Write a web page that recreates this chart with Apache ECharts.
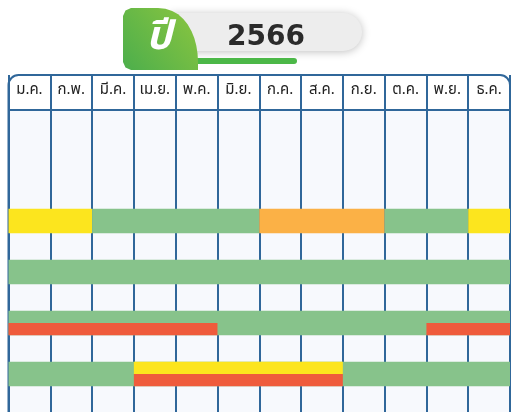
<!DOCTYPE html>
<html>
<head>
<meta charset="utf-8">
<script src="https://cdn.jsdelivr.net/npm/echarts@6/dist/echarts.min.js"></script>
<style>
  html, body { margin: 0; padding: 0; background: #fff; }
  #chart { width: 519px; height: 412px; }
</style>
</head>
<body>
<div id="chart"></div>
<script>
// data
const yearLabel = "2566";
const yearPrefix = "ปี";
const months = ["ม.ค.", "ก.พ.", "มี.ค.", "เม.ย.", "พ.ค.", "มิ.ย.", "ก.ค.", "ส.ค.", "ก.ย.", "ต.ค.", "พ.ย.", "ธ.ค."];
// one entry per bar segment
const segRow = [1, 1, 1, 1, 1, 2, 3, 3, 3, 4, 4, 4];
const segStart = [0, 2, 6, 9, 11, 0, 0, 0, 10, 0, 3, 3];
const segEnd = [1, 5, 8, 10, 11, 11, 11, 4, 11, 11, 7, 7];
const segPart = ["full", "full", "full", "full", "full", "full", "full", "lower", "lower", "full", "upper", "lower"];
const segStatus = ["Y", "G", "O", "G", "Y", "G", "G", "R", "R", "G", "Y", "R"];

const statusColor = { Y: "#fce51e", G: "#87c38b", O: "#fbb146", R: "#ef5b3c" };
const lineColor = "#30679a";
const thaiFont = "'Noto Sans Thai', 'Noto Sans Thai Looped', Loma, Garuda, 'Tlwg Typo', 'DejaVu Sans', sans-serif";

const chart = echarts.init(document.getElementById("chart"));

const segData = segRow.map((r, i) => ({
  value: [r, segStart[i], segEnd[i], segPart[i] === "full" ? 0 : segPart[i] === "upper" ? 1 : 2],
  itemStyle: { color: statusColor[segStatus[i]] },
}));

function renderSeg(params, api) {
  const row = api.value(0);
  const s = api.value(1);
  const e = api.value(2);
  const part = api.value(3);
  const band = api.size([1, 0])[0];
  const unit = api.size([0, 1])[1];
  const p0 = api.coord([s, row]);
  const p1 = api.coord([e, row]);
  const h = unit * 0.48;
  let y = p0[1] - h / 2;
  let hh = h;
  if (part === 1) { hh = h / 2; }
  if (part === 2) { y = p0[1]; hh = h / 2; }
  const x = p0[0] - band / 2;
  const w = p1[0] + band / 2 - x;
  return {
    type: "rect",
    shape: { x: x, y: y, width: w, height: hh },
    style: { fill: api.visual("color") },
  };
}

// outline of the green "year" badge (rounded left corners, curved right side)
function badgePoints() {
  const pts = [[133, 8], [158, 8]];
  for (let t = 0.1; t <= 1.0001; t += 0.1) {
    const u = 1 - t;
    const x = u * u * u * 158 + 3 * u * u * t * 184 + 3 * u * t * t * 198 + t * t * t * 198;
    const y = u * u * u * 8 + 3 * u * u * t * 8 + 3 * u * t * t * 34 + t * t * t * 62;
    pts.push([x, y]);
  }
  pts.push([198, 70], [131, 70], [125.5, 67.5], [123, 62], [123, 16], [125.5, 10.5], [131, 8]);
  return pts;
}

chart.setOption({
  animation: false,
  backgroundColor: "#ffffff",
  grid: { left: 8.5, right: 9, top: 75, bottom: 0 },
  xAxis: {
    type: "category",
    position: "top",
    data: months,
    boundaryGap: true,
    axisLine: { show: false },
    axisTick: { show: false, interval: 0 },
    axisLabel: {
      interval: 0,
      inside: true,
      margin: 8,
      color: "#222",
      fontSize: 15,
      fontFamily: thaiFont,
    },
    splitLine: { show: true, interval: 0, lineStyle: { color: lineColor, width: 2 } },
  },
  yAxis: {
    type: "value",
    inverse: true,
    min: -1.863,
    max: 4.745,
    show: false,
    splitLine: { show: false },
  },
  graphic: [
    {
      type: "rect",
      z: -10,
      shape: { x: 8.5, y: 110, width: 501.5, height: 320 },
      style: { fill: "#f7f9fd" },
    },
    {
      type: "rect",
      shape: { x: 8.5, y: 75, width: 501.5, height: 360, r: [10, 10, 0, 0] },
      style: { fill: "none", stroke: lineColor, lineWidth: 2 },
    },
    {
      type: "line",
      shape: { x1: 8.5, y1: 110, x2: 510, y2: 110 },
      style: { stroke: lineColor, lineWidth: 2 },
    },
    // year pill
    {
      type: "rect",
      shape: { x: 170, y: 13, width: 192, height: 38, r: [0, 19, 19, 0] },
      style: { fill: "#ededed", shadowBlur: 8, shadowColor: "rgba(0,0,0,0.25)", shadowOffsetY: 1 },
    },
    {
      type: "rect",
      shape: { x: 180, y: 58, width: 117, height: 6, r: 3 },
      style: { fill: "#4cb848" },
    },
    {
      type: "polygon",
      shape: { points: badgePoints() },
      style: {
        fill: {
          type: "linear", x: 0, y: 1, x2: 1, y2: 0,
          colorStops: [
            { offset: 0, color: "#4cae4c" },
            { offset: 1, color: "#8cc63f" },
          ],
        },
      },
    },
    {
      type: "text",
      style: {
        x: 159, y: 41,
        text: yearPrefix,
        fill: "#fff",
        font: "italic bold 40px " + thaiFont,
        align: "center",
        verticalAlign: "middle",
      },
    },
    {
      type: "text",
      style: {
        x: 266, y: 38,
        text: yearLabel,
        fill: "#2b2b2b",
        font: "bold 28px 'DejaVu Sans', sans-serif",
        align: "center",
        verticalAlign: "middle",
      },
    },
  ],
  series: [
    {
      type: "custom",
      renderItem: renderSeg,
      encode: { x: 1, y: 0 },
      data: segData,
    },
  ],
});
</script>
</body>
</html>
